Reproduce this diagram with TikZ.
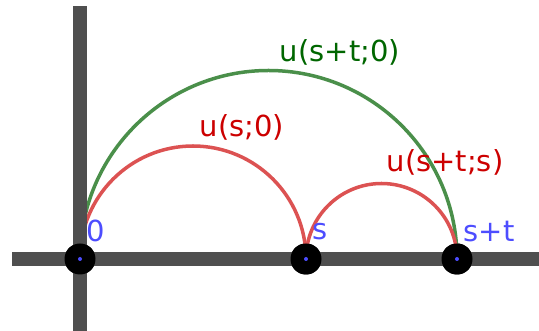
\documentclass[tikz,border=0pt]{standalone}
\usepackage{fontspec}
\setmainfont{DejaVu Sans}
\usetikzlibrary{calc}
\definecolor{ugAxis}{HTML}{4F4F4F}
\definecolor{ugRed}{HTML}{DC5252}
\definecolor{ugGreen}{HTML}{4A8F4A}
\definecolor{ugRedText}{HTML}{CC0000}
\definecolor{ugGreenText}{HTML}{006600}
\definecolor{ugBlue}{HTML}{4D4DFF}
\tikzset{
  ug axis/.style={draw=ugAxis, line width=13.5pt},
  ug red arc/.style={draw=ugRed, line width=3.5pt},
  ug green arc/.style={draw=ugGreen, line width=3.5pt},
  ug point/.style={circle, fill=black, minimum size=31pt, inner sep=0pt},
  ug label/.style={font=\fontsize{29}{34}\selectfont, inner sep=0pt},
}

\begin{document}
\begin{tikzpicture}[x=1pt, y=1pt]
  \useasboundingbox (0,0) rectangle (539,331);
  % Points on the line
  \path (80,72) node[ug point] (o) {}
        (306,72) node[ug point] (s) {}
        (457,72) node[ug point] (st) {};
  % Semicircles between the points
  \draw[ug green arc] let \p1=(o.center), \p2=(st.center) in
    (\p1) arc[start angle=180, end angle=0, radius={(\x2-\x1)/2}];
  \draw[ug red arc] let \p1=(o.center), \p2=(s.center) in
    (\p1) arc[start angle=180, end angle=0, radius={(\x2-\x1)/2}];
  \draw[ug red arc] let \p1=(s.center), \p2=(st.center) in
    (\p1) arc[start angle=180, end angle=0, radius={(\x2-\x1)/2}];
  % Axes
  \coordinate (xl) at (12,72);
  \coordinate (xr) at (539,72);
  \coordinate (yb) at (80,0);
  \coordinate (yt) at (80,325);
  \draw[ug axis] (xl) -- (xr);
  \draw[ug axis] (yb) -- (yt);
  % Points on top
  \foreach \p in {o,s,st} {
    \node[ug point] at (\p) {};
    \fill[ugBlue] (\p) circle (2);
  }
  % Labels
  \node[ug label, text=ugBlue] (lo) at (96,100) {0};
  \node[ug label, text=ugBlue] (ls) at (320,99) {s};
  \node[ug label, text=ugBlue] (lst) at (489,99) {s+t};
  \node[ug label, text=ugRedText] (l1) at (242,204) {u(s;0)};
  \node[ug label, text=ugRedText] (l2) at (445,169) {u(s+t;s)};
  \node[ug label, text=ugGreenText] (l3) at (340,279) {u(s+t;0)};
\end{tikzpicture}
\end{document}
